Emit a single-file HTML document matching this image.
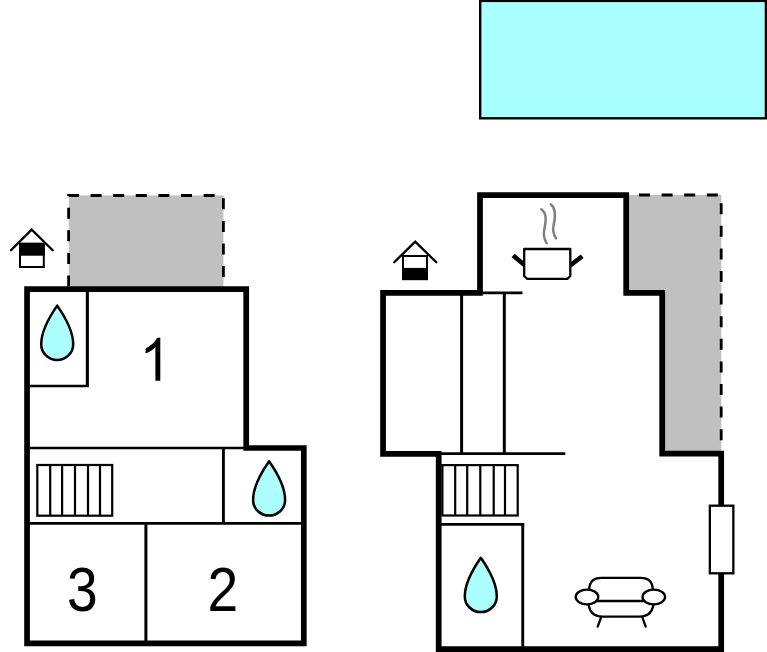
<!DOCTYPE html>
<html>
<head>
<meta charset="utf-8">
<title>Floor plan</title>
<style>
html,body{margin:0;padding:0;background:#fff;}
body{width:767px;height:652px;overflow:hidden;font-family:"Liberation Sans",sans-serif;}
svg{display:block;}
text{font-family:"Liberation Sans",sans-serif;fill:#000;}
</style>
</head>
<body>
<svg width="767" height="652" viewBox="0 0 767 652">
<defs>
  <path id="drop" d="M0,1.6 C8.3,13.5 16,27.5 16,40.2 A16,15.7 0 0 1 -16,40.2 C-16,27.5 -8.3,13.5 0,1.6 Z" fill="#adffff" stroke="#000" stroke-width="2.5" stroke-linejoin="round"/>
</defs>
<rect x="0" y="0" width="767" height="652" fill="#fff"/>

<!-- pool -->
<rect x="480.2" y="0.9" width="285.7" height="117.4" fill="#aaffff" stroke="#000" stroke-width="2.4"/>

<!-- left terrace -->
<rect x="68.8" y="195.4" width="154.6" height="92" fill="#c0c0c0"/>
<path d="M68.6,286.5 V195.5 H223.4 V288" fill="none" stroke="#000" stroke-width="2.8" stroke-dasharray="11 11.6"/>

<!-- right terrace -->
<path d="M626,195 H721.3 V453 H662 V293 H626 Z" fill="#c0c0c0"/>
<path d="M616.4,195 H721.2 V452" fill="none" stroke="#000" stroke-width="2.8" stroke-dasharray="11 11.6"/>

<!-- LEFT BUILDING -->
<g fill="none" stroke="#000">
  <path d="M87.35,289 V386" stroke-width="3.1"/>
  <path d="M27,386 H88.9" stroke-width="2.7"/>
  <path d="M27,448 H246" stroke-width="2.7"/>
  <path d="M223.4,448 V523.3" stroke-width="2.9"/>
  <path d="M27,523.3 H304" stroke-width="2.7"/>
  <path d="M145.9,523.3 V643.5" stroke-width="3"/>
</g>
<path d="M27.05,289.1 H246.2 V448 H303.8 V643.3 H27.05 Z" fill="none" stroke="#000" stroke-width="5.7" stroke-linejoin="miter"/>

<!-- left stairs -->
<g fill="none" stroke="#000" stroke-width="2.2">
  <rect x="37.3" y="465" width="74.9" height="50.7" fill="#fff"/>
  <path d="M50.2,465 V515.7 M62.1,465 V515.7 M75,465 V515.7 M88,465 V515.7 M100,465 V515.7"/>
</g>

<!-- drops -->
<use href="#drop" x="57.2" y="304"/>
<use href="#drop" x="269.1" y="459.7"/>
<use href="#drop" x="480.8" y="556.2"/>

<!-- numbers -->
<g font-size="62.1">
<path transform="translate(139.55,380.7) scale(0.0272,-0.02914)" d="M763,0 H583 V1147 Q518,1085 412.5,1023 Q307,961 223,930 V1104 Q374,1175 487,1276 Q600,1377 647,1472 H763 Z" fill="#000"/>
<text transform="translate(222.9,610.7) scale(0.888,1)" text-anchor="middle">2</text>
<text transform="translate(82.3,610.7) scale(0.888,1)" text-anchor="middle">3</text>
</g>

<!-- left house icon -->
<g>
  <rect x="20" y="243.8" width="23.8" height="23.2" fill="#fff" stroke="#000" stroke-width="2"/>
  <rect x="19" y="242.8" width="25.8" height="12.9" fill="#000"/>
  <path d="M11,250.2 L31.7,229.7 L52.7,250.2" fill="none" stroke="#000" stroke-width="2.3" stroke-linecap="round" stroke-linejoin="miter"/>
</g>

<!-- RIGHT BUILDING -->
<g fill="none" stroke="#000">
  <path d="M480,292.95 H522.5" stroke-width="2.8"/>
  <path d="M461.6,293 V454" stroke-width="3"/>
  <path d="M504.3,293 V454" stroke-width="3"/>
  <path d="M439,453.7 H565.3" stroke-width="2.8"/>
  <path d="M439,524.4 H524.2" stroke-width="2.7"/>
  <path d="M522.75,523.1 V648" stroke-width="2.9"/>
</g>
<path d="M721.2,505.5 V453.6 H662.2 V292.8 H626.2 V195.1 H480 V292.95 H383.05 V453.9 H438.7 V649.1 H721.2 V573.5" fill="none" stroke="#000" stroke-width="5.75" stroke-linejoin="miter"/>

<!-- window -->
<rect x="709.85" y="505.7" width="23.5" height="67.6" fill="#fff" stroke="#000" stroke-width="2.3"/>

<!-- right stairs -->
<g fill="none" stroke="#000" stroke-width="2.2">
  <rect x="442.4" y="465.1" width="75.3" height="50.4" fill="#fff"/>
  <path d="M455.2,465 V515.5 M467.2,465 V515.5 M480.3,465 V515.5 M493.7,465 V515.5 M505,465 V515.5"/>
</g>

<!-- right house icon -->
<g>
  <rect x="403" y="256" width="24" height="23.1" fill="#fff" stroke="#000" stroke-width="2"/>
  <rect x="402" y="267.9" width="26" height="12.2" fill="#000"/>
  <path d="M394.2,262.3 L415.2,241.7 L436.3,262.3" fill="none" stroke="#000" stroke-width="2.3" stroke-linecap="round" stroke-linejoin="miter"/>
</g>

<!-- pot -->
<g fill="none" stroke="#000">
  <path d="M513,255.4 L524.2,264.7" stroke-width="4.5" stroke-linecap="butt"/>
  <path d="M582.2,256.2 L570.2,265.4" stroke-width="4.5" stroke-linecap="butt"/>
  <path d="M524.2,249 H570.3 V276 L567.5,278.8 H527 L524.2,276 Z" fill="#fff" stroke-width="2.3" stroke-linejoin="round"/>
  <g stroke="#808080" stroke-width="2.5" stroke-linecap="round">
    <path d="M541.3,209.3 C548,214 545.3,224 544.2,230 C543.2,236 544.7,240 546.7,243.2"/>
    <path d="M550.9,204.4 C557,209 555,219 553.6,225 C552.4,231 553.9,235 556,238.2"/>
  </g>
</g>

<!-- sofa -->
<g fill="#fff" stroke="#000" stroke-width="2.3">
  <path d="M597.7,626.6 L601,617.6 M645.7,626.6 L642.5,617.6" stroke-linecap="round"/>
  <path d="M589.2,601 V590 Q589.2,577.9 601.5,577.9 H640.5 Q652.8,577.9 652.8,590 V601"/>
  <path d="M588.4,601 Q588.4,616.6 603,616.6 H639 Q653.6,616.6 653.6,601 Z"/>
  <ellipse cx="587" cy="597" rx="11.3" ry="7.3"/>
  <ellipse cx="653.8" cy="597" rx="11.3" ry="7.3"/>
</g>
</svg>
</body>
</html>
